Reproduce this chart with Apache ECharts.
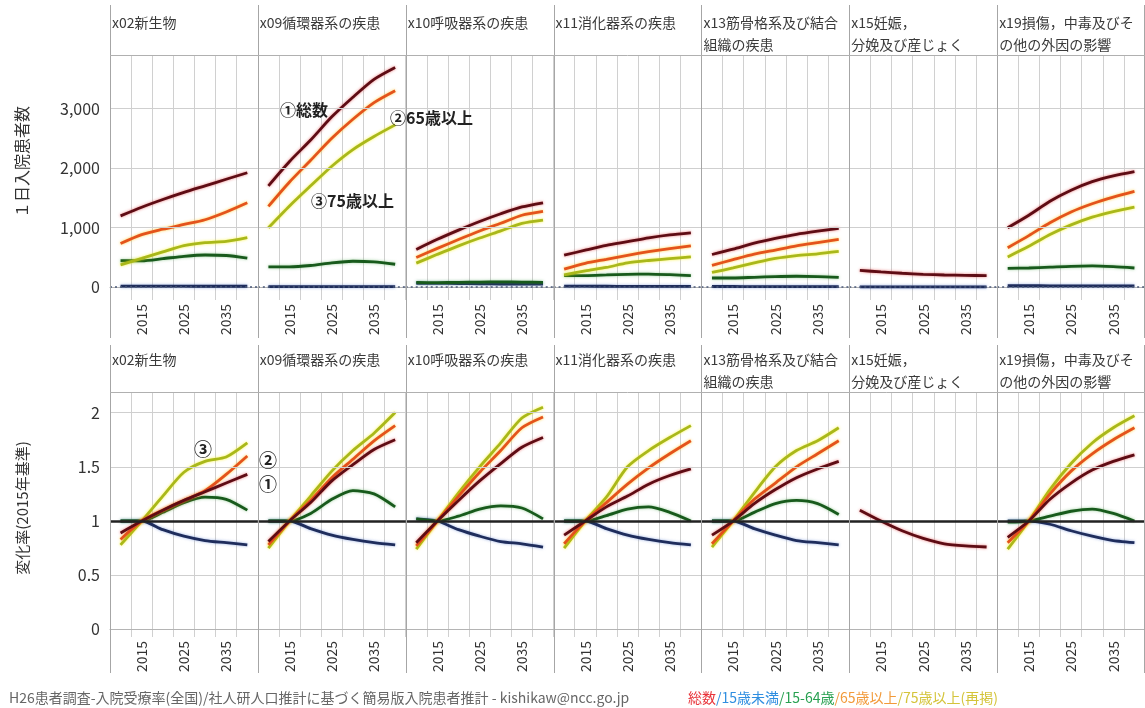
<!DOCTYPE html>
<html><head><meta charset="utf-8">
<script src="https://cdn.jsdelivr.net/npm/echarts@6/dist/echarts.min.js"></script>
<style>html,body{margin:0;padding:0;background:#fff}#c{width:1145px;height:708px}</style>
</head><body><div id="c"></div><script>
// ---------- data ----------
const years = ['2010','2015','2020','2025','2030','2035','2040'];
const panelTitles = ['x02新生物','x09循環器系の疾患','x10呼吸器系の疾患','x11消化器系の疾患','x13筋骨格系及び結合\n組織の疾患','x15妊娠，\n分娩及び産じょく','x19損傷，中毒及びそ\nの他の外因の影響'];
const countTicks = [0, 1000, 2000, 3000];
const ratioTicks = [0, 0.5, 1, 1.5, 2];
const seriesNames = ['総数', '15歳未満', '15-64歳', '65歳以上', '75歳以上(再掲)'];
const countAxisName = '１日入院患者数';
const ratioAxisName = '変化率(2015年基準)';
const sourceText = 'H26患者調査-入院受療率(全国)/社人研人口推計に基づく簡易版入院患者推計 - kishikaw@ncc.go.jp';
const N = null;
const NONE = [N, N, N, N, N, N, N];

// top row: daily inpatients (panels x02, x09, x10, x11, x13, x15, x19)
const cntTotal = [
  [1195, 1340, 1470, 1590, 1700, 1810, 1920],
  [1700, 2110, 2470, 2860, 3190, 3490, 3690],
  [630, 800, 955, 1100, 1230, 1345, 1415],
  [533, 617, 697, 760, 825, 875, 910],
  [545, 635, 735, 815, 885, 938, 985],
  [278, 252, 230, 212, 200, 194, 190],
  [995, 1205, 1440, 1625, 1770, 1868, 1940]
];
const cntU15 = [
  [14, 14, 13, 12, 11, 11, 11],
  [6, 6, 6, 5, 5, 5, 5],
  [62, 60, 56, 52, 49, 47, 46],
  [12, 12, 11, 10, 10, 10, 9],
  [7, 7, 6, 6, 6, 5, 5],
  [0, 0, 0, 0, 0, 0, 0],
  [20, 20, 19, 18, 17, 16, 16]
];
const cnt1564 = [
  [440, 440, 475, 515, 537, 528, 484],
  [337, 337, 360, 405, 432, 421, 381],
  [75, 73, 77, 82, 84, 82, 75],
  [192, 191, 201, 212, 216, 206, 191],
  [150, 150, 162, 174, 179, 174, 159],
  NONE,
  [312, 318, 332, 347, 353, 340, 318]
];
const cnt65 = [
  [730, 880, 970, 1050, 1130, 1260, 1415],
  [1355, 1765, 2130, 2500, 2820, 3100, 3300],
  [495, 648, 797, 940, 1070, 1205, 1270],
  [300, 397, 464, 532, 592, 643, 691],
  [363, 459, 551, 620, 689, 744, 798],
  NONE,
  [660, 863, 1079, 1260, 1398, 1510, 1605]
];
const cnt75 = [
  [372, 480, 590, 695, 745, 765, 828],
  [995, 1362, 1700, 2030, 2310, 2530, 2725],
  [400, 548, 690, 822, 943, 1068, 1124],
  [202, 269, 328, 403, 444, 476, 506],
  [243, 320, 403, 480, 528, 557, 596],
  NONE,
  [505, 682, 880, 1043, 1173, 1268, 1343]
];

// bottom row: change ratio (2015 = 1)
const rTotal = [
  [0.89, 1, 1.10, 1.19, 1.27, 1.35, 1.43],
  [0.81, 1, 1.17, 1.37, 1.52, 1.66, 1.75],
  [0.80, 1, 1.19, 1.37, 1.53, 1.68, 1.77],
  [0.87, 1, 1.13, 1.23, 1.34, 1.42, 1.48],
  [0.87, 1, 1.16, 1.29, 1.40, 1.48, 1.55],
  [1.10, 1, 0.91, 0.84, 0.79, 0.77, 0.76],
  [0.85, 1, 1.20, 1.35, 1.47, 1.55, 1.61]
];
const rU15 = [
  [1.0, 1, 0.92, 0.86, 0.82, 0.80, 0.78],
  [1.0, 1, 0.93, 0.87, 0.83, 0.80, 0.78],
  [1.02, 1, 0.92, 0.86, 0.81, 0.79, 0.76],
  [1.0, 1, 0.93, 0.87, 0.83, 0.80, 0.78],
  [1.0, 1, 0.93, 0.87, 0.82, 0.80, 0.78],
  NONE,
  [1.0, 1, 0.97, 0.91, 0.86, 0.82, 0.80]
];
const r1564 = [
  [1.0, 1, 1.08, 1.17, 1.22, 1.20, 1.10],
  [1.0, 1, 1.07, 1.20, 1.28, 1.25, 1.13],
  [1.02, 1, 1.045, 1.11, 1.14, 1.12, 1.02],
  [1.0, 1, 1.05, 1.11, 1.13, 1.08, 1.0],
  [1.0, 1, 1.08, 1.16, 1.19, 1.16, 1.06],
  NONE,
  [0.99, 1, 1.045, 1.09, 1.11, 1.07, 1.0]
];
const r65 = [
  [0.83, 1, 1.10, 1.19, 1.28, 1.43, 1.60],
  [0.78, 1, 1.19, 1.40, 1.57, 1.74, 1.88],
  [0.77, 1, 1.23, 1.45, 1.65, 1.86, 1.96],
  [0.79, 1, 1.17, 1.34, 1.49, 1.62, 1.74],
  [0.79, 1, 1.20, 1.35, 1.50, 1.62, 1.74],
  NONE,
  [0.80, 1, 1.25, 1.46, 1.62, 1.75, 1.86]
];
const r75 = [
  [0.78, 1, 1.23, 1.45, 1.55, 1.59, 1.72],
  [0.75, 1, 1.23, 1.46, 1.65, 1.81, 2.0],
  [0.74, 1, 1.26, 1.50, 1.72, 1.95, 2.05],
  [0.75, 1, 1.22, 1.50, 1.65, 1.77, 1.88],
  [0.76, 1, 1.26, 1.50, 1.65, 1.74, 1.86],
  NONE,
  [0.74, 1, 1.29, 1.53, 1.72, 1.86, 1.97]
];

// ---------- styling / layout ----------
const FONT = "'Noto Sans CJK JP', 'Noto Sans', sans-serif";
const L0 = 110, RIGHT = 1145, PW = (RIGHT - L0) / 7;
const TOPS = [55, 392], PH = 245;
const YMIN = [-220, -0.07], YMAX = [3900, 2.19];

// drawing order: 15歳未満, 15-64歳, 75歳以上, 65歳以上, 総数
const defs = [
  { idx: 1, color: '#1f2d5c', glow: 'rgba(70,110,200,0.55)', cnt: cntU15, r: rU15 },
  { idx: 2, color: '#185a1c', glow: 'rgba(60,160,60,0.5)', cnt: cnt1564, r: r1564 },
  { idx: 4, color: '#a9b81a', glow: 'rgba(250,240,0,0.7)', cnt: cnt75, r: r75 },
  { idx: 3, color: '#e4531c', glow: 'rgba(255,190,0,0.7)', cnt: cnt65, r: r65 },
  { idx: 0, color: '#5e0c14', glow: 'rgba(220,40,40,0.6)', cnt: cntTotal, r: rTotal }
];

const grids = [], xAxes = [], yAxes = [], series = [], graphics = [];
for (let row = 0; row < 2; row++) {
  for (let col = 0; col < 7; col++) {
    const gi = row * 7 + col;
    grids.push({ left: L0 + col * PW, top: TOPS[row], width: PW, height: PH });
    xAxes.push({
      gridIndex: gi, type: 'category', data: years, boundaryGap: true,
      axisLine: { show: true, lineStyle: { color: '#b4b4b4', width: 1 } },
      axisTick: { show: false, interval: 0 },
      splitLine: { show: true, interval: 0, lineStyle: { color: '#d0d0d0', width: 1 } },
      axisLabel: { interval: (i) => i % 2 === 1, rotate: 90, fontSize: 14, color: '#333', margin: 4, fontFamily: FONT }
    });
    yAxes.push({
      gridIndex: gi, type: 'value', min: YMIN[row], max: YMAX[row],
      axisLine: { show: false }, axisTick: { show: false }, splitLine: { show: false },
      axisLabel: {
        show: col === 0, customValues: row === 0 ? countTicks : ratioTicks,
        fontSize: 16, color: '#333', margin: 10, fontFamily: FONT,
        formatter: (v) => row === 0 ? Number(v).toLocaleString('en-US') : String(v)
      }
    });
    const ml = [];
    if (row === 0) {
      countTicks.forEach(t => {
        if (t === 0) ml.push({ yAxis: t, lineStyle: { color: '#4a5878', width: 1.5, type: [2, 3] } });
        else ml.push({ yAxis: t, lineStyle: { color: '#cfcfcf', width: 1, type: 'solid' } });
      });
    } else {
      ratioTicks.forEach(t => {
        if (t === 1) ml.push({ yAxis: t, lineStyle: { color: '#222', width: 2.6, type: 'solid' } });
        else if (t !== 0) ml.push({ yAxis: t, lineStyle: { color: '#cfcfcf', width: 1, type: 'solid' } });
      });
    }
    series.push({
      type: 'line', xAxisIndex: gi, yAxisIndex: gi, data: NONE, silent: true, z: 2,
      symbol: 'none', animation: false,
      markLine: { silent: true, symbol: ['none', 'none'], label: { show: false }, animation: false, data: ml }
    });
    defs.forEach(d => {
      series.push({
        name: seriesNames[d.idx], type: 'line', xAxisIndex: gi, yAxisIndex: gi,
        data: row === 0 ? d.cnt[col] : d.r[col],
        symbol: 'none', smooth: 0.25, silent: true, animation: false, z: 3,
        lineStyle: { color: d.color, width: 2.8, shadowColor: d.glow, shadowBlur: 3 },
        itemStyle: { color: d.color }
      });
    });
  }
}

const rowSpan = [[5, 338], [345, 673]];
for (let row = 0; row < 2; row++) {
  for (let c = 0; c <= 7; c++) {
    const x = Math.min(Math.round(L0 + c * PW) + 0.5, RIGHT - 0.5);
    graphics.push({ type: 'line', silent: true, z: 10,
      shape: { x1: x, y1: rowSpan[row][0], x2: x, y2: rowSpan[row][1] },
      style: { stroke: '#a6a6a6', lineWidth: 1 } });
  }
  graphics.push({ type: 'line', silent: true, z: 10,
    shape: { x1: L0, y1: TOPS[row] + 0.5, x2: RIGHT, y2: TOPS[row] + 0.5 },
    style: { stroke: '#b0b0b0', lineWidth: 1 } });
  panelTitles.forEach((t, c) => {
    graphics.push({ type: 'text', silent: true, z: 10,
      x: L0 + c * PW + 2, y: TOPS[row] - 43,
      style: { text: t, fontSize: 14, lineHeight: 22, fill: '#3a3a3a', fontFamily: FONT, verticalAlign: 'top', align: 'left' } });
  });
}
graphics.push({ type: 'text', silent: true, x: 22, y: 162, rotation: Math.PI / 2,
  style: { text: countAxisName, fontSize: 16, fill: '#333', fontFamily: FONT, align: 'center', verticalAlign: 'middle' } });
graphics.push({ type: 'text', silent: true, x: 22, y: 508, rotation: Math.PI / 2,
  style: { text: ratioAxisName, fontSize: 15, fill: '#333', fontFamily: FONT, align: 'center', verticalAlign: 'middle' } });
const ann = [
  ['①' + seriesNames[0], 280, 110, 16],
  ['②65歳以上', 390, 118, 16],
  ['③75歳以上', 311, 201, 16],
  ['③', 194, 449, 18],
  ['②', 259, 460, 18],
  ['①', 259, 484, 18]
];
ann.forEach(a => graphics.push({ type: 'text', silent: true, z: 20, x: a[1], y: a[2],
  style: { text: a[0], fontSize: a[3], fontWeight: 'bold', fill: '#222', fontFamily: FONT, align: 'left', verticalAlign: 'middle' } }));

const rs = (c) => ({ color: c, fontSize: 14, fontWeight: 'normal', fontFamily: FONT });
const option = {
  animation: false,
  backgroundColor: '#fff',
  textStyle: { fontFamily: FONT },
  title: [
    { left: 4, top: 686, text: '{s|' + sourceText + '}', textStyle: { fontWeight: 'normal', rich: { s: rs('#666') } } },
    { left: 683, top: 686,
      text: '{a|' + seriesNames[0] + '}{b|/' + seriesNames[1] + '}{c|/' + seriesNames[2] + '}{d|/' + seriesNames[3] + '}{e|/' + seriesNames[4] + '}',
      textStyle: { fontWeight: 'normal', rich: { a: rs('#e8343a'), b: rs('#2f8ee0'), c: rs('#27a050'), d: rs('#f29a3a'), e: rs('#d4c43a') } } }
  ],
  grid: grids, xAxis: xAxes, yAxis: yAxes, series: series,
  graphic: graphics
};
const chart = echarts.init(document.getElementById('c'), null, { renderer: 'canvas' });
chart.setOption(option);
</script></body></html>
